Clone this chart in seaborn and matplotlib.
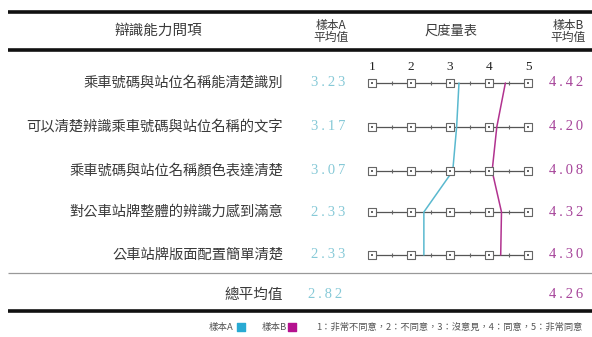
import matplotlib
matplotlib.use("Agg")
import matplotlib.pyplot as plt
import seaborn as sns
import pandas as pd
import numpy as np

sns.set_theme(style="white")
plt.rcParams['font.family'] = ['Noto Sans CJK TC', 'DejaVu Sans']

# ---- data ----
items = ["乘車號碼與站位名稱能清楚識別",
         "可以清楚辨識乘車號碼與站位名稱的文字",
         "乘車號碼與站位名稱顏色表達清楚",
         "對公車站牌整體的辨識力感到滿意",
         "公車站牌版面配置簡單清楚"]
sample_a = [3.23, 3.17, 3.07, 2.33, 2.33]
sample_b = [4.42, 4.20, 4.08, 4.32, 4.30]
total_a = 2.82
total_b = 4.26
scale_ticks = [1, 2, 3, 4, 5]
header_item = "辯識能力問項"
header_a = "樣本A\n平均值"
header_scale = "尺度量表"
header_b = "樣本B\n平均值"
total_label = "總平均值"
legend_a = "樣本A"
legend_b = "樣本B"
legend_note = "1：非常不同意，2：不同意，3：沒意見，4：同意，5：非常同意"

# ---- layout (pixels) ----
W, H = 592, 337
row_y = [83, 127, 171, 212, 255]
X1_PX, UNIT_PX = 372, 39.0

def px(x):
    return 1 + (x - X1_PX) / UNIT_PX

def spaced(v):
    return "\u2009".join(f"{v:.2f}")

COL_A = "#5ab9cf"
COL_B = "#b1328f"
TXT_A = "#86c9d7"
TXT_B = "#a6449a"
DARK = "#3a3a3a"
SERIF = ['Liberation Serif', 'DejaVu Serif']

fig = plt.figure(figsize=(W / 100, H / 100), dpi=100)
ax = fig.add_axes([0, 0, 1, 1])
ax.set_xlim(px(0), px(W))
ax.set_ylim(H, 0)
ax.axis("off")

df = pd.DataFrame({"item": items, "A": sample_a, "B": sample_b, "y": row_y})

# rules
ax.hlines([12], px(8), px(W), color="#111111", lw=2.6)
ax.hlines([50], px(8), px(W), color="#111111", lw=2.6)
ax.hlines([273], px(8), px(W), color="#999999", lw=0.9)
ax.hlines([311], px(8), px(W), color="#111111", lw=2.6)

# scale rails
ax.hlines(df["y"], min(scale_ticks), max(scale_ticks), color="#555555", lw=0.9, zorder=2)
mids = [(a + b) / 2 for a, b in zip(scale_ticks[:-1], scale_ticks[1:])]
mid_df = pd.DataFrame([(m, y) for y in row_y for m in mids], columns=["x", "y"])
sns.scatterplot(data=mid_df, x="x", y="y", ax=ax, marker="|", s=10, color="#666666",
                linewidth=0.8, zorder=3, legend=False)

# profile lines
sns.lineplot(data=df, x="A", y="y", sort=False, orient="y", ax=ax, color=COL_A, lw=1.1, zorder=4)
sns.lineplot(data=df, x="B", y="y", sort=False, orient="y", ax=ax, color=COL_B, lw=1.1, zorder=4)

# squares
sq_df = pd.DataFrame([(t, y) for y in row_y for t in scale_ticks], columns=["x", "y"])
sns.scatterplot(data=sq_df, x="x", y="y", ax=ax, marker="s", s=40, facecolor="white",
                edgecolor="#666666", linewidth=0.8, zorder=5, legend=False)
sns.scatterplot(data=sq_df, x="x", y="y", ax=ax, marker="s", s=2, color="#666666",
                linewidth=0, zorder=6, legend=False)

# scale numbers
for t in scale_ticks:
    ax.text(t, 70, str(t), ha="center", va="baseline", fontsize=9.5, color="#222222", family=SERIF)

# headers
ax.text(px(158), 31, header_item, ha="center", va="center", fontsize=10.5, color=DARK, fontweight="light")
ax.text(px(331), 31, header_a, ha="center", va="center", fontsize=8.5, color=DARK, linespacing=0.9,
        family=['Noto Sans CJK TC', 'Liberation Serif'], fontweight="light")
ax.text(px(451), 31, header_scale, ha="center", va="center", fontsize=9.5, color=DARK, fontweight="light")
ax.text(px(568), 31, header_b, ha="center", va="center", fontsize=8.5, color=DARK, linespacing=0.9,
        family=['Noto Sans CJK TC', 'Liberation Serif'], fontweight="light")

# rows
for it, a, b, y in zip(items, sample_a, sample_b, row_y):
    ax.text(px(283), y, it, ha="right", va="center", fontsize=10.3, color=DARK, fontweight="light")
    ax.text(px(328), y, spaced(a), ha="center", va="center", fontsize=10.5, color=TXT_A, family=SERIF)
    ax.text(px(566), y, spaced(b), ha="center", va="center", fontsize=10.5, color=TXT_B, family=SERIF)

# totals
ax.text(px(283), 295, total_label, ha="right", va="center", fontsize=10.5, color=DARK, fontweight="light")
ax.text(px(325), 295, spaced(total_a), ha="center", va="center", fontsize=10.5, color=TXT_A, family=SERIF)
ax.text(px(566), 295, spaced(total_b), ha="center", va="center", fontsize=10.5, color=TXT_B, family=SERIF)

# legend
ax.text(px(233), 327, legend_a, ha="right", va="center", fontsize=6.8, color="#555555",
        family=['Noto Sans CJK TC', 'Liberation Serif'])
ax.scatter([px(241)], [327], marker="s", s=34, color="#29aad3", zorder=5)
ax.text(px(287), 327, legend_b, ha="right", va="center", fontsize=6.8, color="#555555",
        family=['Noto Sans CJK TC', 'Liberation Serif'])
ax.scatter([px(292)], [327], marker="s", s=34, color="#b5128f", zorder=5)
ax.text(px(316), 327, legend_note, ha="left", va="center", fontsize=6.7, color="#555555")

fig.savefig("out.png", dpi=100, facecolor="white")
